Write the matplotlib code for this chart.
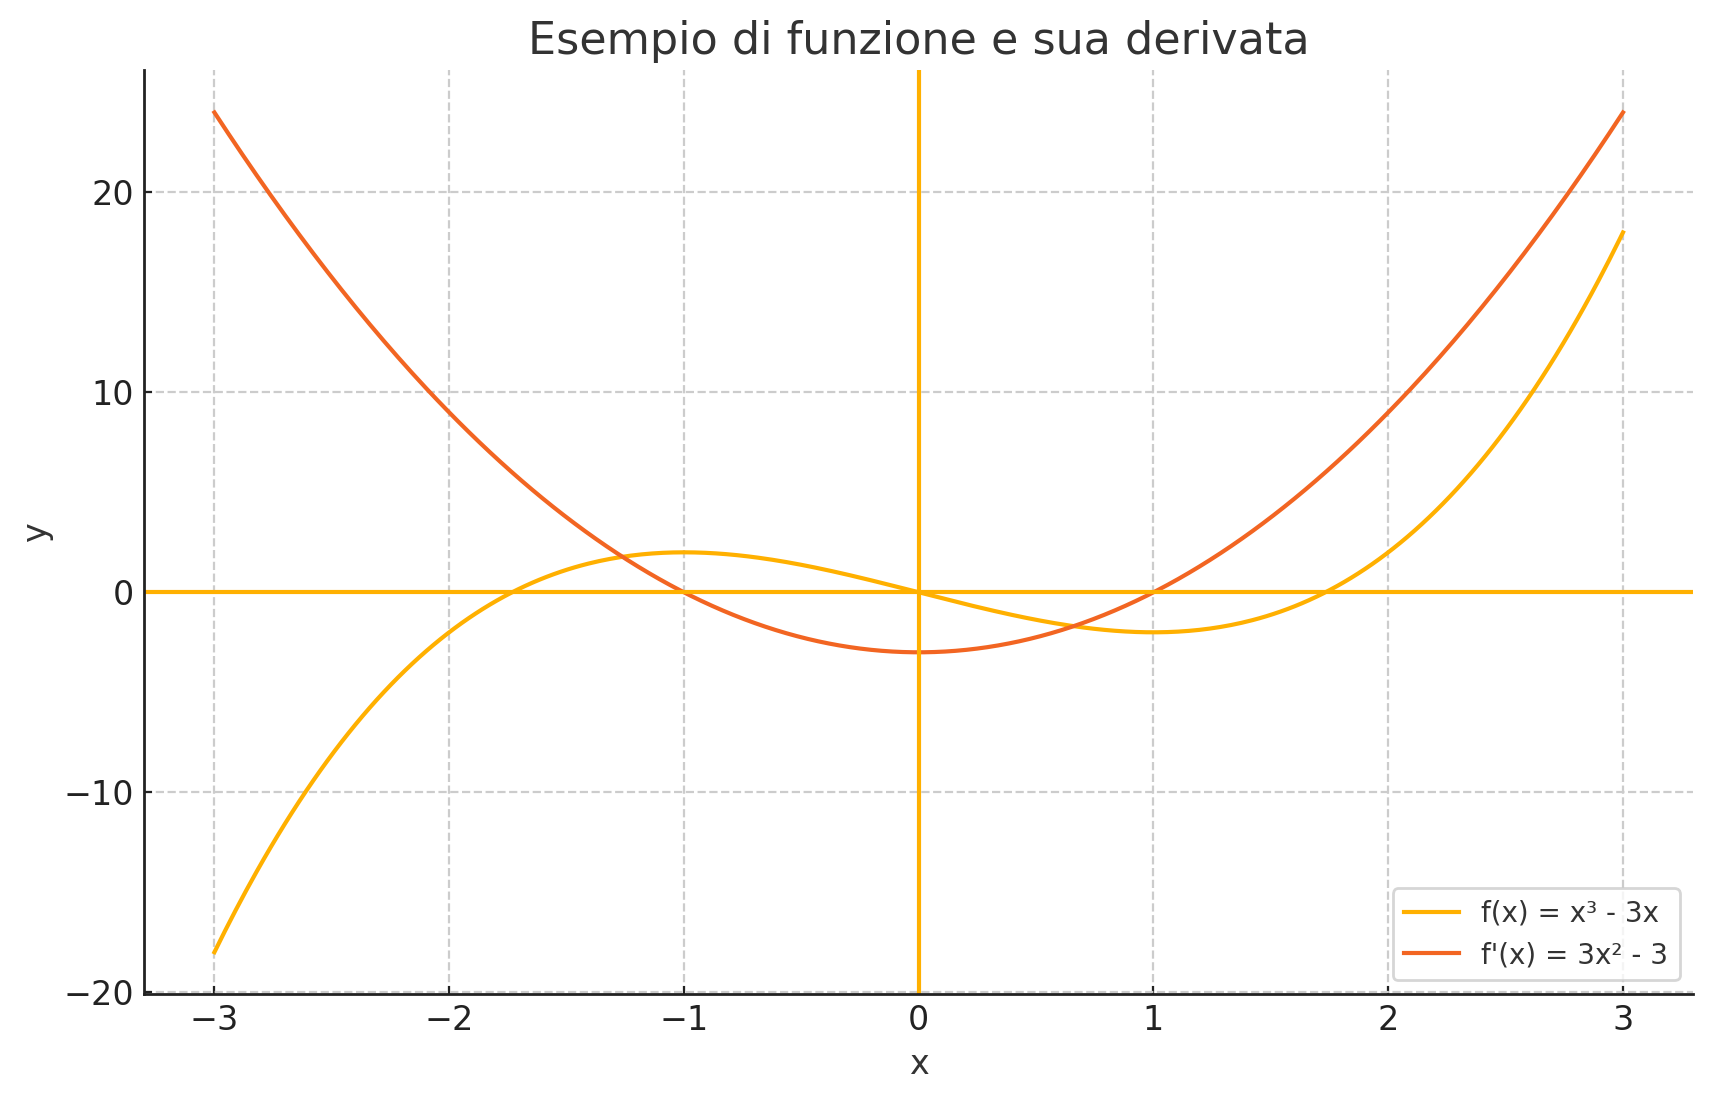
import numpy as np
import matplotlib
matplotlib.use('Agg')
import matplotlib.pyplot as plt

# function from the legend, sampled over the plotted range
x = np.linspace(-3, 3, 400)
f = x ** 3 - 3 * x
df = 3 * x ** 2 - 3

label_f = 'f(x) = x³ - 3x'
label_df = "f'(x) = 3x² - 3"
title = 'Esempio di funzione e sua derivata'

c_f = '#FFB000'
c_df = '#F26522'
text_c = '#333333'

plt.rcParams['font.family'] = 'DejaVu Sans'
fig, ax = plt.subplots(figsize=(8.57, 5.505), dpi=200)

ax.plot(x, f, color=c_f, lw=1.5, label=label_f)
ax.plot(x, df, color=c_df, lw=1.5, label=label_df)
ax.axhline(0, color=c_f, lw=1.5)
ax.axvline(0, color=c_f, lw=1.5)

ax.set_title(title, fontsize=16, color=text_c)
ax.set_xlabel('x', fontsize=12, color=text_c)
ax.set_ylabel('y', fontsize=12, color=text_c)
ax.grid(True, linestyle='--', color='#cccccc', lw=0.8)
ax.set_axisbelow(True)

for s in ['top', 'right']:
    ax.spines[s].set_visible(False)
for s in ['left', 'bottom']:
    ax.spines[s].set_color('#222222')
    ax.spines[s].set_linewidth(1.0)
ax.tick_params(direction='in', length=3, labelsize=12, colors='#222222')

leg = ax.legend(loc='lower right', fontsize=10, frameon=True, fancybox=True)
leg.get_frame().set_edgecolor('#cccccc')
for t in leg.get_texts():
    t.set_color(text_c)

plt.subplots_adjust(left=0.084, right=0.988, top=0.936, bottom=0.097)
plt.savefig('out.png', dpi=200)
